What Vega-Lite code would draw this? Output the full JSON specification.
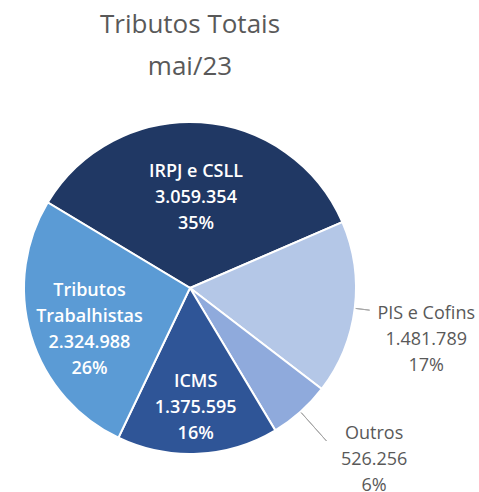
{
  "$schema": "https://vega.github.io/schema/vega-lite/v6.json",
  "width": 380,
  "height": 380,
  "autosize": {"type": "none"},
  "padding": {"left": 0, "top": 98, "right": 99, "bottom": 14},
  "background": "white",
  "config": {
    "view": {"stroke": null},
    "locale": {"number": {"decimal": ",", "thousands": ".", "grouping": [3], "currency": ["R$", ""]}}
  },
  "title": {
    "text": ["Tributos Totais", "mai/23"],
    "font": "Open Sans",
    "fontSize": 26,
    "fontWeight": "normal",
    "color": "#595959",
    "lineHeight": 42,
    "anchor": "middle",
    "offset": 18
  },
  "data": {
    "values": [
      {"order": 1, "name": "IRPJ e CSLL", "value": 3059354, "pct": 35},
      {"order": 2, "name": "PIS e Cofins", "value": 1481789, "pct": 17},
      {"order": 3, "name": "Outros", "value": 526256, "pct": 6},
      {"order": 4, "name": "ICMS", "value": 1375595, "pct": 16},
      {"order": 5, "name": "Tributos Trabalhistas", "value": 2324988, "pct": 26}
    ]
  },
  "transform": [
    {"stack": "value", "groupby": [], "sort": [{"field": "order", "order": "ascending"}], "as": ["s0", "s1"]},
    {"calculate": "(datum.s0 + datum.s1) / 2", "as": "mid"},
    {"calculate": "replace(datum.name, 'Tributos ', 'Tributos\\n') + '\\n' + format(datum.value, ',') + '\\n' + datum.pct + '%'", "as": "label"}
  ],
  "layer": [
    {
      "mark": {"type": "arc", "radius": 166, "stroke": "white", "strokeWidth": 2},
      "encoding": {
        "theta": {"field": "s0", "type": "quantitative", "stack": null, "scale": {"domain": [0, 8767982], "range": [-1.0297, 5.2535], "zero": true, "nice": false}},
        "theta2": {"field": "s1"},
        "color": {
          "field": "name", "type": "nominal", "legend": null,
          "scale": {
            "domain": ["IRPJ e CSLL", "PIS e Cofins", "Outros", "ICMS", "Tributos Trabalhistas"],
            "range": ["#203864", "#B4C7E7", "#8FAADC", "#2F5597", "#5B9BD5"]
          }
        }
      }
    },
    {
      "transform": [{"filter": "datum.name === 'PIS e Cofins'"}],
      "mark": {"type": "arc", "radius": 181, "radius2": 167, "stroke": "#A6A6A6", "strokeWidth": 1, "fillOpacity": 0},
      "encoding": {
        "theta": {"field": "mid", "type": "quantitative", "stack": null},
        "theta2": {"field": "mid"}
      }
    },
    {
      "transform": [{"filter": "datum.name === 'Outros'"}],
      "mark": {"type": "arc", "radius": 205, "radius2": 167, "stroke": "#A6A6A6", "strokeWidth": 1, "fillOpacity": 0},
      "encoding": {
        "theta": {"field": "mid", "type": "quantitative", "stack": null},
        "theta2": {"field": "mid"}
      }
    },
    {
      "transform": [{"filter": "datum.name === 'IRPJ e CSLL'"}],
      "mark": {"type": "text", "radius": 90, "dy": -26, "fill": "white", "font": "Open Sans", "fontSize": 18, "fontWeight": 600, "lineBreak": "\n", "lineHeight": 26, "align": "center", "baseline": "middle"},
      "encoding": {
        "theta": {"field": "mid", "type": "quantitative", "stack": null},
        "text": {"field": "label"}
      }
    },
    {
      "transform": [{"filter": "datum.name === 'ICMS'"}],
      "mark": {"type": "text", "radius": 120, "dy": -26, "fill": "white", "font": "Open Sans", "fontSize": 18, "fontWeight": 600, "lineBreak": "\n", "lineHeight": 26, "align": "center", "baseline": "middle"},
      "encoding": {
        "theta": {"field": "mid", "type": "quantitative", "stack": null},
        "text": {"field": "label"}
      }
    },
    {
      "transform": [{"filter": "datum.name === 'Tributos Trabalhistas'"}],
      "mark": {"type": "text", "radius": 105, "dy": -27, "fill": "white", "font": "Open Sans", "fontSize": 18, "fontWeight": 600, "lineBreak": "\n", "lineHeight": 26, "align": "center", "baseline": "middle"},
      "encoding": {
        "theta": {"field": "mid", "type": "quantitative", "stack": null},
        "text": {"field": "label"}
      }
    },
    {
      "transform": [{"filter": "datum.name === 'PIS e Cofins'"}],
      "mark": {"type": "text", "radius": 238, "dy": -3, "fill": "#595959", "font": "Open Sans", "fontSize": 18, "lineBreak": "\n", "lineHeight": 26, "align": "center", "baseline": "middle"},
      "encoding": {
        "theta": {"field": "mid", "type": "quantitative", "stack": null},
        "text": {"field": "label"}
      }
    },
    {
      "transform": [{"filter": "datum.name === 'Outros'"}],
      "mark": {"type": "text", "radius": 230, "dx": 31, "dy": -26, "fill": "#595959", "font": "Open Sans", "fontSize": 18, "lineBreak": "\n", "lineHeight": 26, "align": "center", "baseline": "middle"},
      "encoding": {
        "theta": {"field": "mid", "type": "quantitative", "stack": null},
        "text": {"field": "label"}
      }
    }
  ]
}
